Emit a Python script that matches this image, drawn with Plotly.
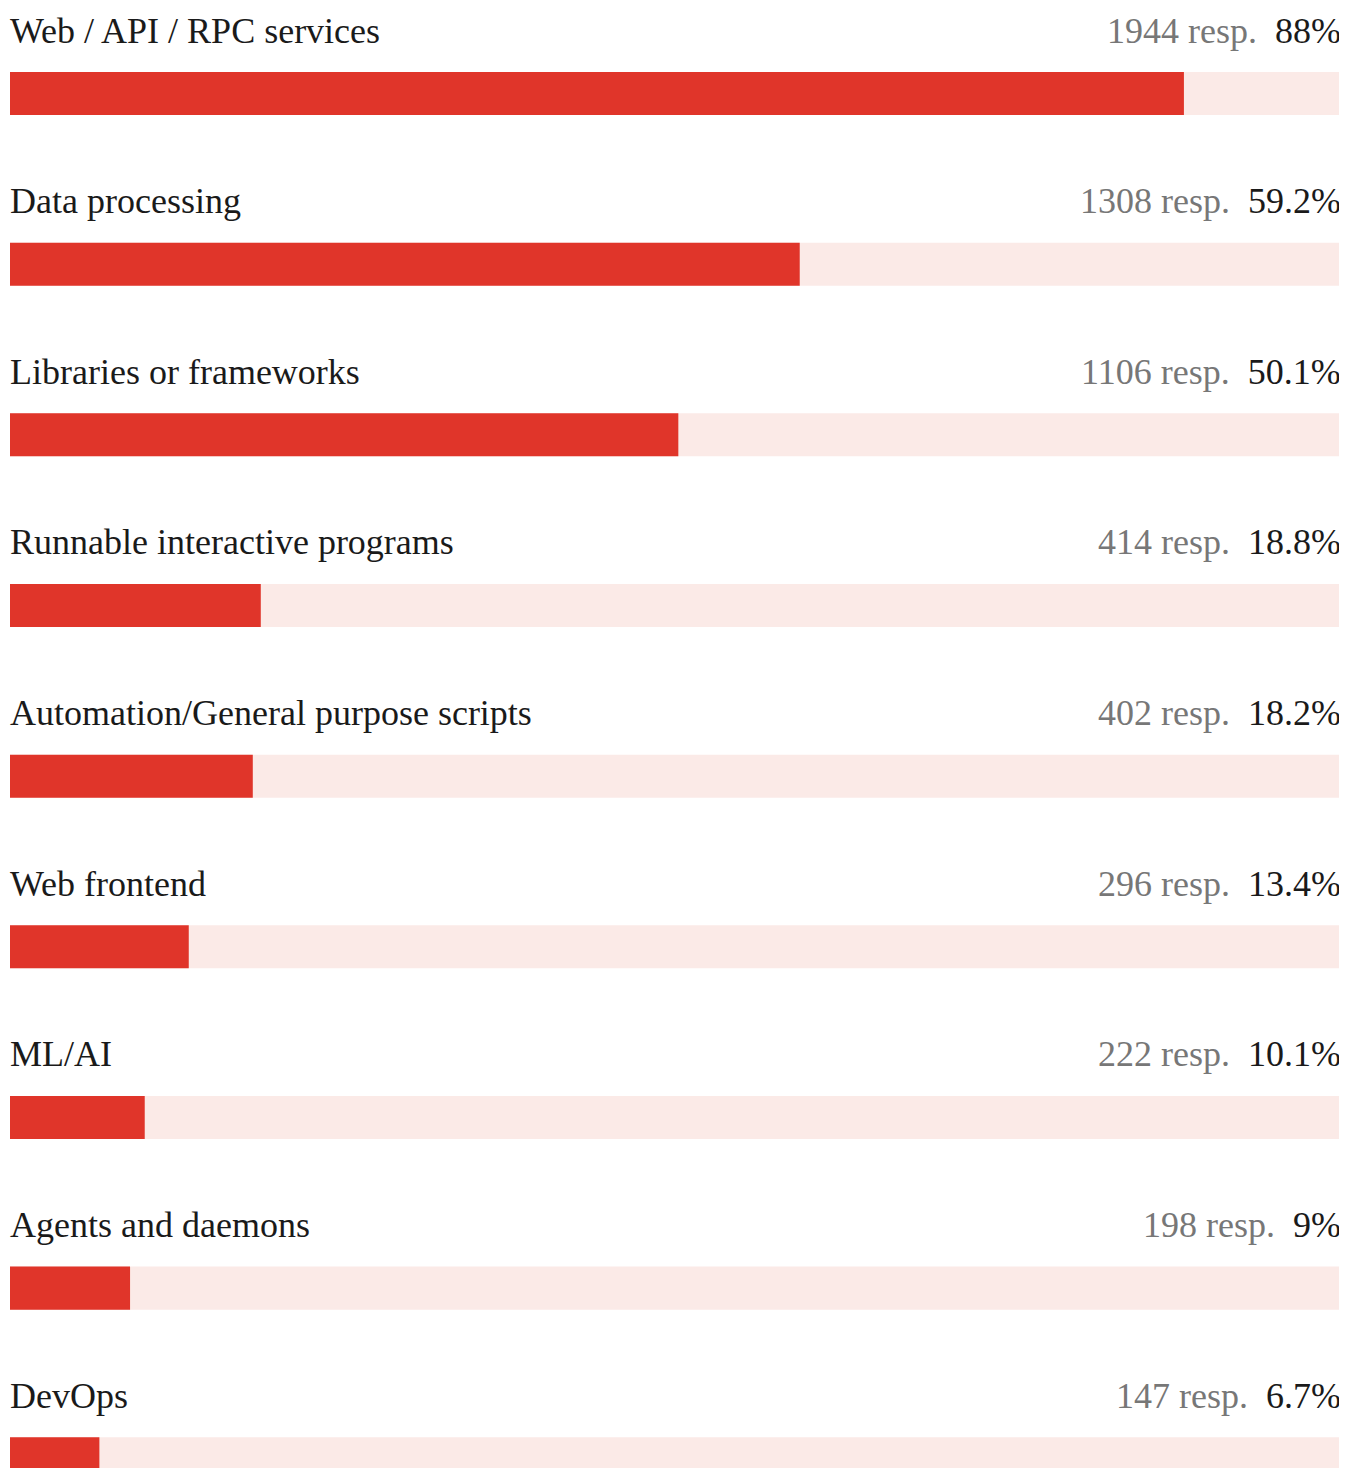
import plotly.graph_objects as go

categories = [
    'Web / API / RPC services',
    'Data processing',
    'Libraries or frameworks',
    'Runnable interactive programs',
    'Automation/General purpose scripts',
    'Web frontend',
    'ML/AI',
    'Agents and daemons',
    'DevOps',
]
responses = [1944, 1308, 1106, 414, 402, 296, 222, 198, 147]
percents = [88, 59.2, 50.1, 18.8, 18.2, 13.4, 10.1, 9, 6.7]

FONT = 'Liberation Serif'
RED = '#e0352a'
TRACK = '#fbeae7'

rows = list(range(len(categories)))

fig = go.Figure()

# background track
fig.add_trace(go.Bar(
    x=[100] * len(categories),
    y=rows,
    orientation='h',
    width=0.252,
    marker=dict(color=TRACK, line=dict(width=0)),
    hoverinfo='skip',
))

# filled part
fig.add_trace(go.Bar(
    x=percents,
    y=rows,
    orientation='h',
    width=0.252,
    marker=dict(color=RED, line=dict(width=0), cornerradius=4),
    customdata=responses,
    hovertemplate='%{customdata} resp. %{x}%<extra></extra>',
))

# labels above each bar
for i, (cat, n, pct) in enumerate(zip(categories, responses, percents)):
    fig.add_annotation(
        x=0, y=i, xref='x', yref='y',
        text=cat, showarrow=False,
        xanchor='left', yanchor='middle', yshift=63, xshift=-2,
        font=dict(family=FONT, size=36, color='#1a1a1a'),
    )
    fig.add_annotation(
        x=100, y=i, xref='x', yref='y',
        text="<span style='color:#777777'>%d&nbsp;resp.</span>&nbsp;&nbsp;%s%%" % (n, ('%g' % pct)),
        showarrow=False,
        xanchor='right', yanchor='middle', yshift=63, xshift=-1,
        font=dict(family=FONT, size=36, color='#1a1a1a'),
    )

# page starts at y=8 (body margin); last bar is cut by the bottom edge
fig.update_layout(
    width=1339,
    height=1460,
    margin=dict(l=2, r=3, t=0, b=0),
    paper_bgcolor='white',
    plot_bgcolor='white',
    barmode='overlay',
    showlegend=False,
    xaxis=dict(range=[0, 100], visible=False, fixedrange=True),
    yaxis=dict(range=[8.054, -0.501], visible=False, fixedrange=True),
)

fig.write_html("out.html")
